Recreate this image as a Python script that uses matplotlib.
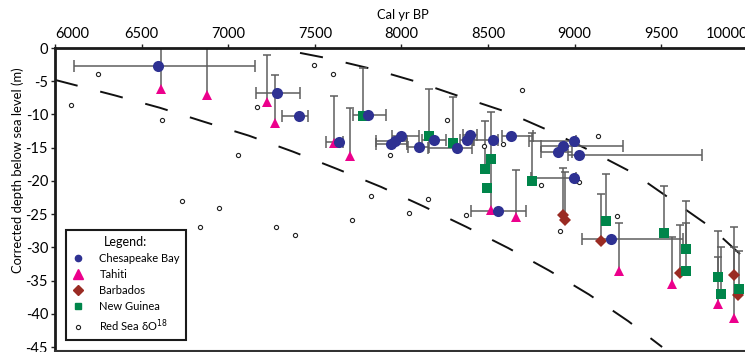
import numpy as np
import matplotlib
matplotlib.use('Agg')
import matplotlib.pyplot as plt
from matplotlib.lines import Line2D

# Chesapeake Bay: calibrated age, corrected depth, age range
ches_age = [6595, 7280, 7407, 7638, 7809, 7940, 7965, 7998, 8102, 8188, 8323,
            8377, 8396, 8531, 8631, 8999, 8935, 8906, 9027, 8999, 8560, 9210]
ches_depth = [-2.7, -6.8, -10.3, -14.2, -10.1, -14.5, -14.0, -13.3, -14.9, -13.9, -15.1,
              -13.9, -13.1, -13.8, -13.2, -14.0, -14.8, -15.6, -16.1, -19.6, -24.6, -28.8]
ches_age_min = [6110, 7160, 7312, 7565, 7720, 7853, 7853, 7944, 8040, 8120, 8155,
                8340, 8357, 8415, 8580, 8738, 8804, 8804, 8960, 8750, 8400, 9041]
ches_age_max = [7155, 7415, 7462, 7665, 7911, 8034, 8034, 8103, 8160, 8260, 8410,
                8420, 8434, 8560, 8762, 9010, 9282, 8983, 9738, 9010, 8718, 9628]

# Tahiti: age, depth, top of the depth range
tahiti_age = [6612, 6880, 7222, 7268, 7610, 7705, 8515, 8660, 9254, 9564, 9826, 9918]
tahiti_depth = [-6.2, -7.1, -8.2, -11.3, -14.3, -16.3, -24.4, -25.4, -33.5, -35.5, -38.5, -40.6]
tahiti_top = [1.0, 1.0, -1.05, -4.1, -7.2, -9.1, -9.6, -18.3, -26.4, -28.5, -27.5, -27.0]

# Barbados
barb_age = [8935, 8945, 9153, 9609, 9921, 9942]
barb_depth = [-25.1, -25.9, -29.1, -33.9, -34.2, -37.2]
barb_top = [-18.0, -18.7, -22.0, -26.6, -29.9, np.nan]

# New Guinea
ng_age = [7780, 8161, 8296, 8516, 8483, 8496, 8752, 9180, 9513, 9641, 9643, 9826, 9844, 9948]
ng_depth = [-10.2, -13.2, -14.3, -16.7, -18.2, -21.1, -20.0, -26.1, -27.9, -30.2, -33.5,
            -34.5, -37.0, -36.3]
ng_top = [-3.0, -6.1, -7.3, np.nan, -11.0, np.nan, -12.8, -19.0, -20.8, -23.1, -26.4,
          -31.5, -29.9, -30.6]

# Red Sea d18O derived sea level
rs_age = [6092, 6250, 6620, 7058, 7165, 7495, 7603, 6731, 6837, 6947, 7276, 7386, 7713,
          7823, 8262, 8698, 9137, 7934, 8479, 8589, 8806, 8044, 8152, 8371, 9027, 8916, 9247]
rs_depth = [-8.6, -3.9, -10.8, -16.1, -8.9, -2.6, -3.9, -23.0, -27.0, -24.1, -27.0, -28.1,
            -25.9, -22.3, -10.8, -6.3, -13.3, -16.1, -14.7, -14.5, -20.6, -24.9, -22.7,
            -25.2, -20.1, -27.5, -25.3]

# envelope curves (dashed)
upper_age = [7150, 7328, 7565, 7853, 8090, 8350, 8604, 8858, 9101, 9337, 9563, 9782, 9967, 10100]
upper_depth = [0.6, -0.3, -1.5, -3.3, -5.1, -7.4, -9.6, -12.5, -15.6, -18.8, -22.9, -26.9,
               -31.3, -34.6]
lower_age = [6000, 6341, 6606, 6860, 7120, 7374, 7628, 7882, 8125, 8373, 8616, 8853, 9083,
             9309, 9505]
lower_depth = [-4.8, -7.1, -9.0, -11.1, -13.2, -15.6, -18.2, -20.9, -23.8, -26.9, -30.1,
               -33.5, -37.1, -41.1, -45.0]

x_ticks = [6000, 6500, 7000, 7500, 8000, 8500, 9000, 9500, 10000]
y_ticks = [0, -5, -10, -15, -20, -25, -30, -35, -40, -45]

BLUE = '#2E3192'
PINK = '#EC008C'
BROWN = '#9A2B23'
GREEN = '#00854A'
BAR = '#5e5e5e'

plt.rcParams['font.family'] = ['Lato', 'DejaVu Sans']
plt.rcParams['axes.unicode_minus'] = False

fig = plt.figure(figsize=(7.45, 3.52), dpi=100)
ax = fig.add_axes([55 / 745, 1 / 352, 727.5 / 745, 303 / 352])

ax.plot(upper_age, upper_depth, color='#111111', lw=1.4, linestyle=(0, (12, 12)), zorder=1)
ax.plot(lower_age, lower_depth, color='#111111', lw=1.4, linestyle=(0, (12, 12)), zorder=1)

# horizontal age ranges
ca = np.array(ches_age)
ax.errorbar(ca, ches_depth, xerr=[ca - np.array(ches_age_min), np.array(ches_age_max) - ca],
            fmt='none', ecolor=BAR, elinewidth=1.1, capsize=4, capthick=1.1, zorder=2)


def depth_bars(age, depth, top):
    # one-sided bar from the sample up to the top of its depth range
    age = np.array(age)
    depth = np.array(depth)
    top = np.array(top)
    ok = ~np.isnan(top)
    ax.vlines(age[ok], depth[ok], top[ok], color=BAR, lw=1.1, zorder=2)
    ax.plot(age[ok], top[ok], linestyle='none', marker='_', markersize=6,
            markeredgewidth=1.1, color=BAR, zorder=2)


depth_bars(tahiti_age, tahiti_depth, tahiti_top)
depth_bars(barb_age, barb_depth, barb_top)
depth_bars(ng_age, ng_depth, ng_top)

ax.plot(rs_age, rs_depth, linestyle='none', marker='o', markersize=3, markerfacecolor='white',
        markeredgecolor='#222222', markeredgewidth=0.8, zorder=3)
ax.plot(tahiti_age, tahiti_depth, linestyle='none', marker='^', markersize=7.5, color=PINK,
        markeredgewidth=0, zorder=4)
ax.plot(barb_age, barb_depth, linestyle='none', marker='D', markersize=6, color=BROWN,
        markeredgewidth=0, zorder=5)
ax.plot(ng_age, ng_depth, linestyle='none', marker='s', markersize=6.8, color=GREEN,
        markeredgewidth=0, zorder=6)
ax.plot(ches_age, ches_depth, linestyle='none', marker='o', markersize=8, color=BLUE,
        markeredgewidth=0, zorder=7)

ax.set_xlim(6000, 10200)
ax.set_ylim(-45.6, 0)
ax.xaxis.tick_top()
ax.xaxis.set_label_position('top')
ax.set_xticks(x_ticks)
ax.set_xticklabels([str(t) for t in x_ticks])
ax.set_yticks(y_ticks)
ax.set_yticklabels([str(t) for t in y_ticks])
ax.tick_params(axis='both', labelsize=10.5, length=3, width=1, color='#222222', pad=2)
# first and last year labels sit off-centre in the original
xlabels = ax.get_xticklabels()
xlabels[0].set_ha('left')
xlabels[-1].set_ha('right')

ax.set_xlabel('Cal yr BP', fontsize=9.3)
ax.xaxis.set_label_coords(0.478, 1.095)
ax.set_ylabel('Corrected depth below sea level (m)', fontsize=9.4,
              family=['Liberation Sans Narrow', 'Lato'])
ax.yaxis.set_label_coords(-0.042, 0.597)

for side in ['top', 'left']:
    ax.spines[side].set_linewidth(2)
    ax.spines[side].set_color('#1a1a1a')
ax.spines['bottom'].set_linewidth(1.5)
ax.spines['bottom'].set_color('#333333')
ax.spines['right'].set_visible(False)

handles = [
    Line2D([], [], linestyle='none', marker='o', markersize=4.5, color=BLUE),
    Line2D([], [], linestyle='none', marker='^', markersize=7, color=PINK),
    Line2D([], [], linestyle='none', marker='D', markersize=5, color=BROWN),
    Line2D([], [], linestyle='none', marker='s', markersize=5, color=GREEN),
    Line2D([], [], linestyle='none', marker='o', markersize=3, markerfacecolor='white',
           markeredgecolor='#222222', markeredgewidth=0.8),
]
labels = ['Chesapeake Bay', 'Tahiti', 'Barbados', 'New Guinea', 'Red Sea δO$^{18}$']
leg = ax.legend(handles, labels, title='Legend:', loc='lower left',
                bbox_to_anchor=(0.0145, 0.036), borderaxespad=0, fontsize=8,
                title_fontsize=9, fancybox=False, framealpha=1, edgecolor='#1a1a1a',
                handlelength=1.2, handletextpad=1.3, labelspacing=0.45, borderpad=0.55)
leg.get_frame().set_linewidth(1.5)

fig.savefig('out.png', dpi=100)
plt.close(fig)
